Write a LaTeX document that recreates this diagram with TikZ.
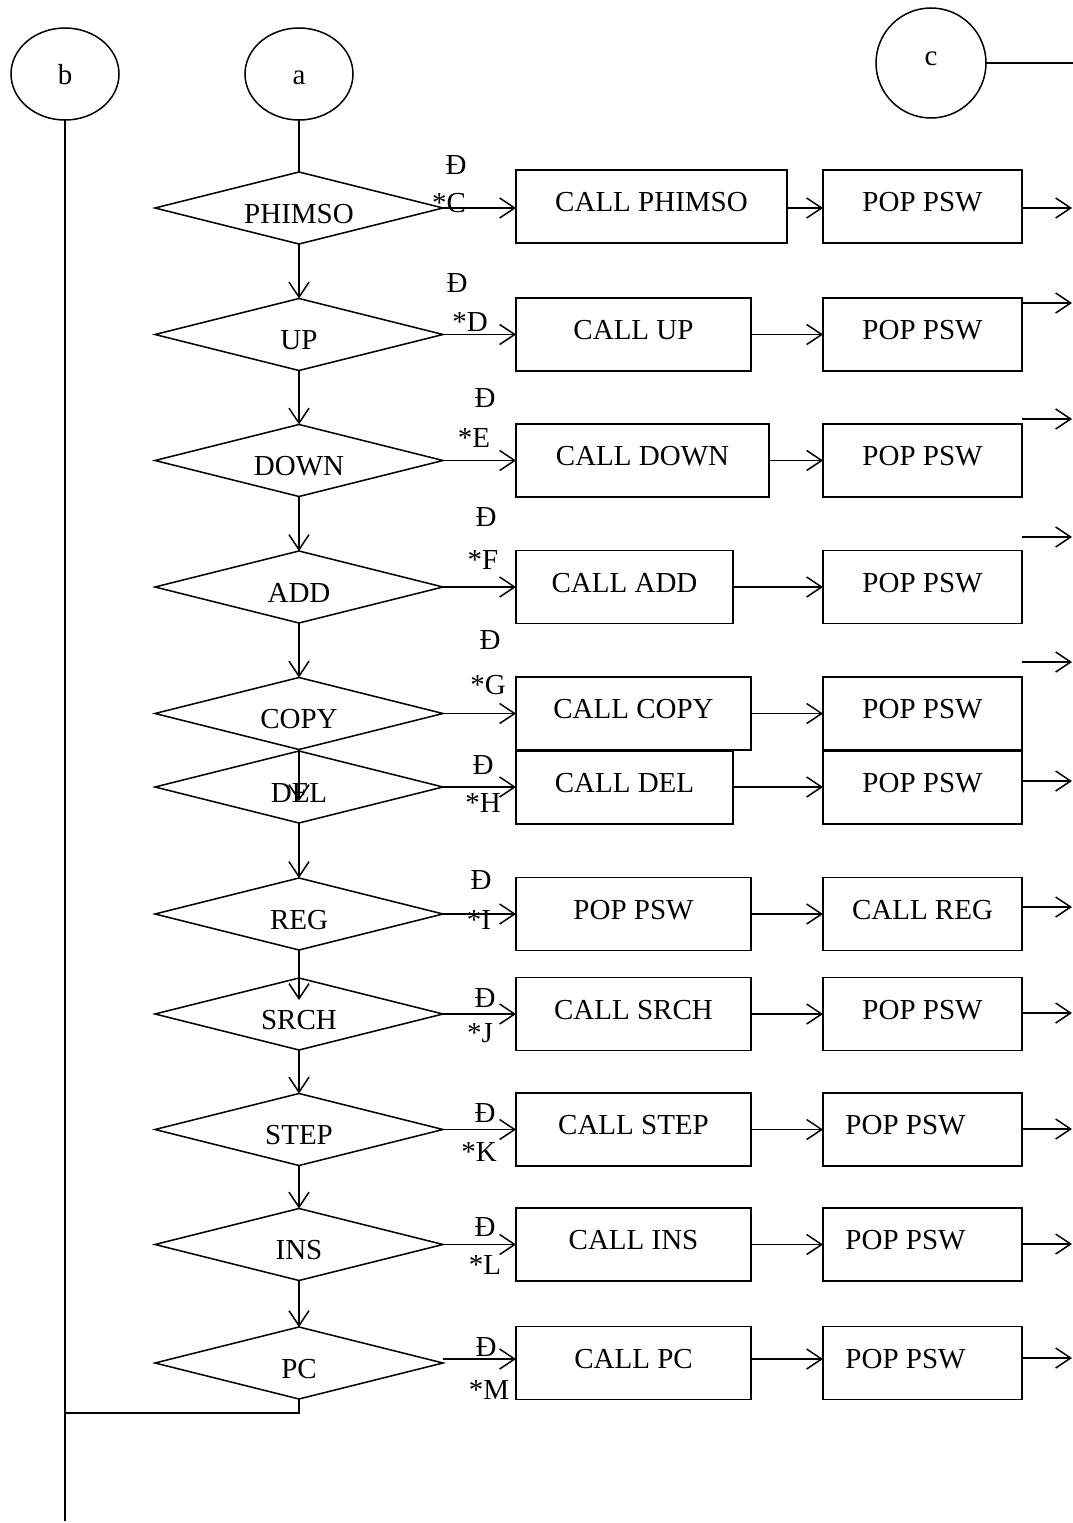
\documentclass[tikz,border=0pt]{standalone}
\usepackage{fontspec}
\setmainfont{Liberation Serif}
\usetikzlibrary{shapes.geometric,arrows.meta}
\newcommand\myfs{\fontsize{29}{34}\selectfont}
\begin{document}
\begin{tikzpicture}[x=1pt,y=-1pt,
  ln/.style={line width=1.5pt},
  arr/.style={line width=1.5pt,-{Straight Barb[length=15pt,width=20pt]}},
  dia/.style={draw,diamond,line width=1.5pt,minimum width=288pt,minimum height=72pt,inner sep=0pt,outer sep=0pt},
  dtext/.style={label={[font=\myfs,yshift=-6pt]center:#1}},
  boxc/.style={draw,rectangle,line width=1.5pt,inner sep=0pt,outer sep=0pt,minimum height=73pt},
  btext/.style={label={[font=\myfs,yshift=4pt]center:#1}},
  btextl/.style={label={[font=\myfs,yshift=4pt,xshift=-17pt]center:#1}},
  conn/.style={draw,ellipse,line width=1.5pt,minimum width=108pt,minimum height=92pt,inner sep=0pt,outer sep=0pt,font=\myfs,text height=20pt,text depth=0pt},
  lab/.style={font=\myfs,inner sep=0pt},
]
\useasboundingbox (0,0) rectangle (1073,1523);

% connectors on top
\node[conn] (b) at (65,74) {b};
\node[conn] (a) at (299,74) {a};
\node[draw,circle,line width=1.5pt,minimum size=110pt,inner sep=0pt,outer sep=0pt,label={[font=\myfs,yshift=4pt]center:c}] (c) at (931,63) {};
\coordinate (cend) at (1073,63);
\draw[ln] (c.east) -- (cend);

% row 1 PHIMSO
\node[dia,dtext=PHIMSO] (d1) at (299,208) {};
\node[boxc,minimum width=271pt,btext=CALL PHIMSO] (c1) at (651.5,206.5) {};
\node[boxc,minimum width=199pt,btext=POP PSW] (p1) at (922.5,206.5) {};
\node[lab] (h1) at (456,165) {Đ};
\node[lab] (s1) at (449,203) {*C};
\coordinate (e1) at (1072,208);
\draw[arr] (d1.east) -- (c1.west |- d1.east);
\draw[arr] (c1.east |- d1.east) -- (p1.west |- d1.east);
\draw[arr] (p1.east |- e1) -- (e1);
\draw[ln] (a.south) -- (d1.north);

% row 2 UP
\node[dia,dtext=UP] (d2) at (299,334.5) {};
\node[boxc,minimum width=235pt,btext=CALL UP] (c2) at (633.5,334.5) {};
\node[boxc,minimum width=199pt,btext=POP PSW] (p2) at (922.5,334.5) {};
\node[lab] (h2) at (457,283) {Đ};
\node[lab] (s2) at (470,322) {*D};
\coordinate (e2) at (1072,303);
\draw[arr] (d2.east) -- (c2.west);
\draw[arr] (c2.east) -- (p2.west);
\draw[arr] (p2.east |- e2) -- (e2);
\draw[arr] (d1.south) -- (d2.north);

% row 3 DOWN
\node[dia,dtext=DOWN] (d3) at (299,460.5) {};
\node[boxc,minimum width=253pt,btext=CALL DOWN] (c3) at (642.5,460.5) {};
\node[boxc,minimum width=199pt,btext=POP PSW] (p3) at (922.5,460.5) {};
\node[lab] (h3) at (485,398) {Đ};
\node[lab] (s3) at (474,438) {*E};
\coordinate (e3) at (1072,419);
\draw[arr] (d3.east) -- (c3.west);
\draw[arr] (c3.east) -- (p3.west);
\draw[arr] (p3.east |- e3) -- (e3);
\draw[arr] (d2.south) -- (d3.north);

% row 4 ADD
\node[dia,dtext=ADD] (d4) at (299,587) {};
\node[boxc,minimum width=217pt,btext=CALL ADD] (c4) at (624.5,587) {};
\node[boxc,minimum width=199pt,btext=POP PSW] (p4) at (922.5,587) {};
\node[lab] (h4) at (486,517) {Đ};
\node[lab] (s4) at (483,560) {*F};
\coordinate (e4) at (1072,537);
\draw[arr] (d4.east) -- (c4.west);
\draw[arr] (c4.east) -- (p4.west);
\draw[arr] (p4.east |- e4) -- (e4);
\draw[arr] (d3.south) -- (d4.north);

% row 5 COPY
\node[dia,dtext=COPY] (d5) at (299,713.5) {};
\node[boxc,minimum width=235pt,btext=CALL COPY] (c5) at (633.5,713.5) {};
\node[boxc,minimum width=199pt,btext=POP PSW] (p5) at (922.5,713.5) {};
\node[lab] (h5) at (490,640) {Đ};
\node[lab] (s5) at (488,685) {*G};
\coordinate (e5) at (1072,662);
\draw[arr] (d5.east) -- (c5.west);
\draw[arr] (c5.east) -- (p5.west);
\draw[arr] (p5.east |- e5) -- (e5);
\draw[arr] (d4.south) -- (d5.north);

% row 6 DEL
\node[dia,dtext=DEL] (d6) at (299,787) {};
\node[boxc,minimum width=217pt,btext=CALL DEL] (c6) at (624.5,787.5) {};
\node[boxc,minimum width=199pt,btext=POP PSW] (p6) at (922.5,787.5) {};
\node[lab] (h6) at (483,765) {Đ};
\node[lab] (s6) at (483,803) {*H};
\coordinate (e6) at (1072,781);
\coordinate (delt) at (299,801);
\draw[arr] (d6.east) -- (c6.west |- d6.east);
\draw[arr] (c6.east |- d6.east) -- (p6.west |- d6.east);
\draw[arr] (p6.east |- e6) -- (e6);
\draw[arr] (d5.south) -- (delt);

% row 7 REG
\node[dia,dtext=REG] (d7) at (299,914) {};
\node[boxc,minimum width=235pt,btext=POP PSW] (c7) at (633.5,914) {};
\node[boxc,minimum width=199pt,btext=CALL REG] (p7) at (922.5,914) {};
\node[lab] (h7) at (481,880) {Đ};
\node[lab] (s7) at (479,920) {*I};
\coordinate (e7) at (1072,907);
\draw[arr] (d7.east) -- (c7.west);
\draw[arr] (c7.east) -- (p7.west);
\draw[arr] (p7.east |- e7) -- (e7);
\draw[arr] (d6.south) -- (d7.north);

% row 8 SRCH
\node[dia,dtext=SRCH] (d8) at (299,1014) {};
\node[boxc,minimum width=235pt,btext=CALL SRCH] (c8) at (633.5,1014) {};
\node[boxc,minimum width=199pt,btext=POP PSW] (p8) at (922.5,1014) {};
\node[lab] (h8) at (485,998) {Đ};
\node[lab] (s8) at (480,1033) {*J};
\coordinate (e8) at (1072,1013);
\coordinate (srt) at (299,1000);
\draw[arr] (d8.east) -- (c8.west);
\draw[arr] (c8.east) -- (p8.west);
\draw[arr] (p8.east |- e8) -- (e8);
\draw[arr] (d7.south) -- (srt);

% row 9 STEP
\node[dia,dtext=STEP] (d9) at (299,1129.5) {};
\node[boxc,minimum width=235pt,btext=CALL STEP] (c9) at (633.5,1129.5) {};
\node[boxc,minimum width=199pt,btextl=POP PSW] (p9) at (922.5,1129.5) {};
\node[lab] (h9) at (485,1113) {Đ};
\node[lab] (s9) at (479,1152) {*K};
\coordinate (e9) at (1072,1129);
\draw[arr] (d9.east) -- (c9.west);
\draw[arr] (c9.east) -- (p9.west);
\draw[arr] (p9.east |- e9) -- (e9);
\draw[arr] (d8.south) -- (d9.north);

% row 10 INS
\node[dia,dtext=INS] (d10) at (299,1244.5) {};
\node[boxc,minimum width=235pt,btext=CALL INS] (c10) at (633.5,1244.5) {};
\node[boxc,minimum width=199pt,btextl=POP PSW] (p10) at (922.5,1244.5) {};
\node[lab] (h10) at (485,1227) {Đ};
\node[lab] (s10) at (485,1265) {*L};
\coordinate (e10) at (1072,1244);
\draw[arr] (d10.east) -- (c10.west);
\draw[arr] (c10.east) -- (p10.west);
\draw[arr] (p10.east |- e10) -- (e10);
\draw[arr] (d9.south) -- (d10.north);

% row 11 PC
\node[dia,dtext=PC] (d11) at (299,1363) {};
\node[boxc,minimum width=235pt,btext=CALL PC] (c11) at (633.5,1363) {};
\node[boxc,minimum width=199pt,btextl=POP PSW] (p11) at (922.5,1363) {};
\node[lab] (h11) at (486,1347) {Đ};
\node[lab] (s11) at (489,1390) {*M};
\coordinate (r11) at (0,1359);
\coordinate (e11) at (1072,1358);
\draw[arr] (d11.east |- r11) -- (c11.west |- r11);
\draw[arr] (c11.east |- r11) -- (p11.west |- r11);
\draw[arr] (p11.east |- e11) -- (e11);
\draw[arr] (d10.south) -- (d11.north);

% return line to b
\coordinate (bj) at (65,1413);
\coordinate (bend) at (65,1521);
\draw[ln] (d11.south) |- (bj);
\draw[ln] (b.south) -- (bend);
\end{tikzpicture}
\end{document}
